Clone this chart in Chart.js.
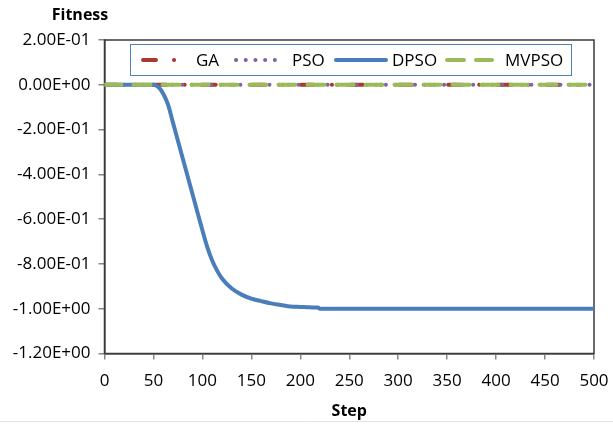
<!DOCTYPE html>
<html>
<head>
<meta charset="utf-8">
<script src="https://cdn.jsdelivr.net/npm/chart.js@4.4.1/dist/chart.umd.min.js"></script>
<style>
  html, body { margin: 0; padding: 0; background: #fff; }
</style>
</head>
<body>
<canvas id="fitnessChart" width="613" height="425"></canvas>
<script>
// series data
var seriesNames = ['GA', 'PSO', 'DPSO', 'MVPSO'];

var gaSteps = [0, 500];
var gaFitness = [0, 0];

var psoSteps = [0, 500];
var psoFitness = [0, 0];

var mvpsoSteps = [0, 500];
var mvpsoFitness = [0, 0];

var dpsoSteps = [0, 20, 40, 50, 55, 60, 65, 70, 75, 80, 85, 90, 95, 100, 105, 110, 115, 120, 130, 140, 150, 160, 170, 180, 190, 200, 210, 218, 220, 250, 300, 350, 400, 450, 500];
var dpsoFitness = [0, 0, 0, 0, -0.01, -0.04, -0.09, -0.17, -0.25, -0.33, -0.41, -0.49, -0.57, -0.65, -0.725, -0.785, -0.83, -0.865, -0.91, -0.937, -0.955, -0.966, -0.976, -0.983, -0.99, -0.992, -0.994, -0.995, -1.0, -1.0, -1.0, -1.0, -1.0, -1.0, -1.0];

var xTicks = [0, 50, 100, 150, 200, 250, 300, 350, 400, 450, 500];
var yMin = -1.2, yMax = 0.2, yStep = 0.2;

function toPoints(xs, ys) {
  var pts = [];
  for (var i = 0; i < xs.length; i++) pts.push({x: xs[i], y: ys[i]});
  return pts;
}

// Excel style scientific label, e.g. -2.00E-01
function excelExp(v) {
  if (Math.abs(v) < 1e-9) return '0.00E+00';
  var s = v.toExponential(2).split('e');
  var sign = s[1].charAt(0);
  var digits = s[1].slice(1);
  if (digits.length < 2) digits = '0' + digits;
  return s[0] + 'E' + sign + digits;
}

var FONT = "'Open Sans', sans-serif";

var legendPos = [
  {line: [141, 181], text: 196},
  {line: [234, 283], text: 292},
  {line: [334, 388], text: 392},
  {line: [445, 494], text: 505}
];

var excelLook = {
  id: 'excelLook',
  beforeDatasetsDraw: function(chart) {
    var ctx = chart.ctx, a = chart.chartArea;
    ctx.save();
    ctx.strokeStyle = '#3a3a3a';
    ctx.lineWidth = 1.5;
    ctx.strokeRect(a.left, a.top, a.right - a.left, a.bottom - a.top);
    ctx.restore();
  },
  afterDraw: function(chart) {
    var ctx = chart.ctx;
    ctx.save();
    // axis title on top
    ctx.fillStyle = '#000';
    ctx.font = "bold 16px " + FONT;
    ctx.textAlign = 'center';
    ctx.textBaseline = 'middle';
    ctx.fillText('Fitness', 80, 15);

    // legend box
    ctx.fillStyle = '#fff';
    ctx.fillRect(130, 44, 441, 31);
    ctx.strokeStyle = '#4F81BD';
    ctx.lineWidth = 1;
    ctx.strokeRect(130.5, 44.5, 441, 31);

    var ds = chart.data.datasets;
    var cy = 60;
    for (var i = 0; i < ds.length; i++) {
      var p = legendPos[i];
      ctx.beginPath();
      ctx.strokeStyle = ds[i].borderColor;
      ctx.lineWidth = ds[i].borderWidth;
      ctx.lineCap = ds[i].borderCapStyle;
      ctx.setLineDash(ds[i].borderDash || []);
      ctx.moveTo(p.line[0] + 2, cy);
      ctx.lineTo(p.line[1] - 2, cy);
      ctx.stroke();
      ctx.setLineDash([]);
      ctx.fillStyle = '#000';
      ctx.font = "17px " + FONT;
      ctx.textAlign = 'left';
      ctx.fillText(ds[i].label, p.text, cy + 1);
    }

    // faint line at the very bottom
    ctx.strokeStyle = '#e3e3e3';
    ctx.lineWidth = 1;
    ctx.beginPath();
    ctx.moveTo(0, 421.5);
    ctx.lineTo(613, 421.5);
    ctx.stroke();
    ctx.restore();
  }
};

var ctx = document.getElementById('fitnessChart');

var fitnessChart = new Chart(ctx, {
  type: 'line',
  data: {
    datasets: [
      {
        label: seriesNames[0],
        data: toPoints(gaSteps, gaFitness),
        borderColor: '#A8392F',
        borderWidth: 4,
        borderDash: [13, 18, 0.1, 18],
        borderCapStyle: 'round',
        order: 3
      },
      {
        label: seriesNames[1],
        data: toPoints(psoSteps, psoFitness),
        borderColor: '#8064A2',
        borderWidth: 4,
        borderDash: [0.1, 9.6],
        borderCapStyle: 'round',
        order: 2
      },
      {
        label: seriesNames[2],
        data: toPoints(dpsoSteps, dpsoFitness),
        borderColor: '#4A7EBB',
        borderWidth: 4,
        borderCapStyle: 'round',
        cubicInterpolationMode: 'monotone',
        order: 1
      },
      {
        label: seriesNames[3],
        data: toPoints(mvpsoSteps, mvpsoFitness),
        borderColor: '#9BBB59',
        borderWidth: 4,
        borderDash: [17, 12],
        borderCapStyle: 'round',
        order: 0
      }
    ]
  },
  options: {
    responsive: false,
    animation: false,
    devicePixelRatio: 1,
    layout: { padding: { top: 40, right: 19, left: 0, bottom: 0 } },
    elements: { point: { radius: 0 }, line: { fill: false } },
    plugins: { legend: { display: false }, tooltip: { enabled: false } },
    scales: {
      x: {
        type: 'linear',
        min: 0,
        max: 500,
        afterBuildTicks: function(scale) {
          scale.ticks = xTicks.map(function(v) { return {value: v}; });
        },
        afterFit: function(scale) {
          scale.height = 71.5;
          scale.paddingLeft = 0;
          scale.paddingRight = 0;
        },
        border: { display: true, color: '#878787', width: 2 },
        grid: { display: true, drawOnChartArea: false, drawTicks: true, tickLength: 6, color: '#878787', lineWidth: 1.5 },
        ticks: { color: '#000', font: { family: FONT, size: 17 }, padding: 11, maxRotation: 0 },
        title: { display: true, text: 'Step', color: '#000', font: { family: FONT, size: 16, weight: 'bold' }, padding: { top: 2 } }
      },
      y: {
        min: yMin,
        max: yMax,
        afterFit: function(scale) { scale.width = 104.5; },
        border: { display: true, color: '#878787', width: 2 },
        grid: { display: true, drawOnChartArea: false, drawTicks: true, tickLength: 6, color: '#878787', lineWidth: 1.5 },
        ticks: {
          stepSize: yStep,
          color: '#000',
          font: { family: FONT, size: 17 },
          padding: 8,
          callback: function(v) { return excelExp(v); }
        }
      }
    }
  },
  plugins: [excelLook]
});
</script>
</body>
</html>
